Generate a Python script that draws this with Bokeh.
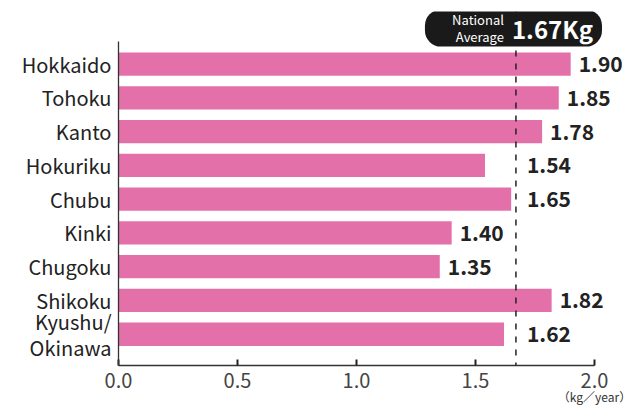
from bokeh.plotting import figure
from bokeh.models import (Range1d, FixedTicker, Span, Label, LabelSet, ColumnDataSource,
                          PrintfTickFormatter, LinearAxis)
from bokeh.core.properties import value
from bokeh.embed import file_html
from bokeh.resources import INLINE

regions = ["Hokkaido", "Tohoku", "Kanto", "Hokuriku", "Chubu", "Kinki", "Chugoku", "Shikoku", "Kyushu/\nOkinawa"]
amounts = [1.90, 1.85, 1.78, 1.54, 1.65, 1.40, 1.35, 1.82, 1.62]
national_average = 1.67
x_ticks = [0.0, 0.5, 1.0, 1.5, 2.0]
x_max = 2.0
unit_label = "（kg／year）"

FONT = "Noto Sans CJK JP"
BAR = "#E370A8"

pos = list(range(len(regions)))
near = [(national_average - 0.2) < a < national_average for a in amounts]
lab_x = [national_average if n else a for a, n in zip(amounts, near)]
lab_off = [11 if n else 8 for n in near]
src = ColumnDataSource(dict(y=pos, v=amounts, lx=lab_x, off=lab_off,
                            lab=["%.2f" % a for a in amounts]))

# layout constants (pixels)
ROW = 33.8
TOP_PAD, BOT_PAD = 0.669, 0.926
HEAD = 30
y_axis_top = -TOP_PAD
y_axis_bot = len(regions) - 1 + BOT_PAD

p = figure(width=633, height=410,
           x_range=Range1d(0, 2.164),
           y_range=Range1d(y_axis_bot, y_axis_top - HEAD / ROW),
           output_backend="svg", toolbar_location=None,
           min_border_left=118, min_border_top=11, min_border_right=0, min_border_bottom=45)
p.outline_line_color = None
p.xgrid.visible = False
p.ygrid.visible = False
p.background_fill_color = "white"
p.border_fill_color = "white"

p.hbar(y="y", right="v", left=0, height=0.69, source=src, color=BAR, line_color=None)

p.add_layout(LabelSet(x="lx", y="y", text="lab", source=src, x_offset="off",
                      text_baseline="middle", text_align="left", text_font=value(FONT),
                      text_font_size="21px", text_font_style="bold", text_color="#222222"))

p.add_layout(Span(location=national_average, dimension="height", line_color="#222222",
                  line_width=1.5, line_dash="6 7"))

xa = p.xaxis[0]
xa.bounds = (0, x_max)
xa.ticker = FixedTicker(ticks=x_ticks)
xa.formatter = PrintfTickFormatter(format="%.1f")
xa.axis_line_color = "#333333"
xa.axis_line_width = 1.3
xa.major_tick_in = 6
xa.major_tick_out = 0
xa.major_tick_line_color = "#222222"
xa.major_tick_line_width = 2
xa.minor_tick_line_color = None
xa.major_label_text_font = FONT
xa.major_label_text_font_size = "20px"
xa.major_label_text_color = "#444444"
xa.major_label_standoff = 7

unit_axis = LinearAxis(ticker=FixedTicker(ticks=[x_max]),
                       major_label_overrides={x_max: unit_label},
                       axis_line_color=None, major_tick_line_color=None,
                       minor_tick_line_color=None, major_label_standoff=-9,
                       major_label_text_font=FONT, major_label_text_font_size="12px",
                       major_label_text_color="#333333")
p.add_layout(unit_axis, "below")

ya = p.yaxis[0]
ya.bounds = (y_axis_top, y_axis_bot)
ya.ticker = FixedTicker(ticks=pos)
ya.major_label_overrides = {i: r for i, r in enumerate(regions)}
ya.axis_line_color = "#333333"
ya.axis_line_width = 1.3
ya.major_tick_in = 0
ya.major_tick_out = 0
ya.minor_tick_line_color = None
ya.major_label_text_font = FONT
ya.major_label_text_font_size = "20px"
ya.major_label_text_color = "#222222"
ya.major_label_standoff = 7
ya.major_label_text_line_height = 0.9

badge_y = y_axis_top - 13.4 / ROW
box = Label(x=national_average, y=badge_y, x_units="data", y_units="data",
            text="1.67Kg", text_font=FONT, text_font_size="24px", text_font_style="bold",
            text_color="white", text_align="left", text_baseline="middle",
            x_offset=-91, background_fill_color="#1a1a1a", border_radius=16,
            padding=dict(left=87, right=9, top=1, bottom=1))
p.add_layout(box)
lab = Label(x=national_average, y=badge_y, x_units="data", y_units="data",
            text="National\nAverage", text_font=FONT, text_font_size="13px",
            text_color="white", text_align="right", text_baseline="middle",
            text_line_height=0.9, x_offset=-12)
p.add_layout(lab)

open("out.html", "w").write(file_html(p, INLINE))
